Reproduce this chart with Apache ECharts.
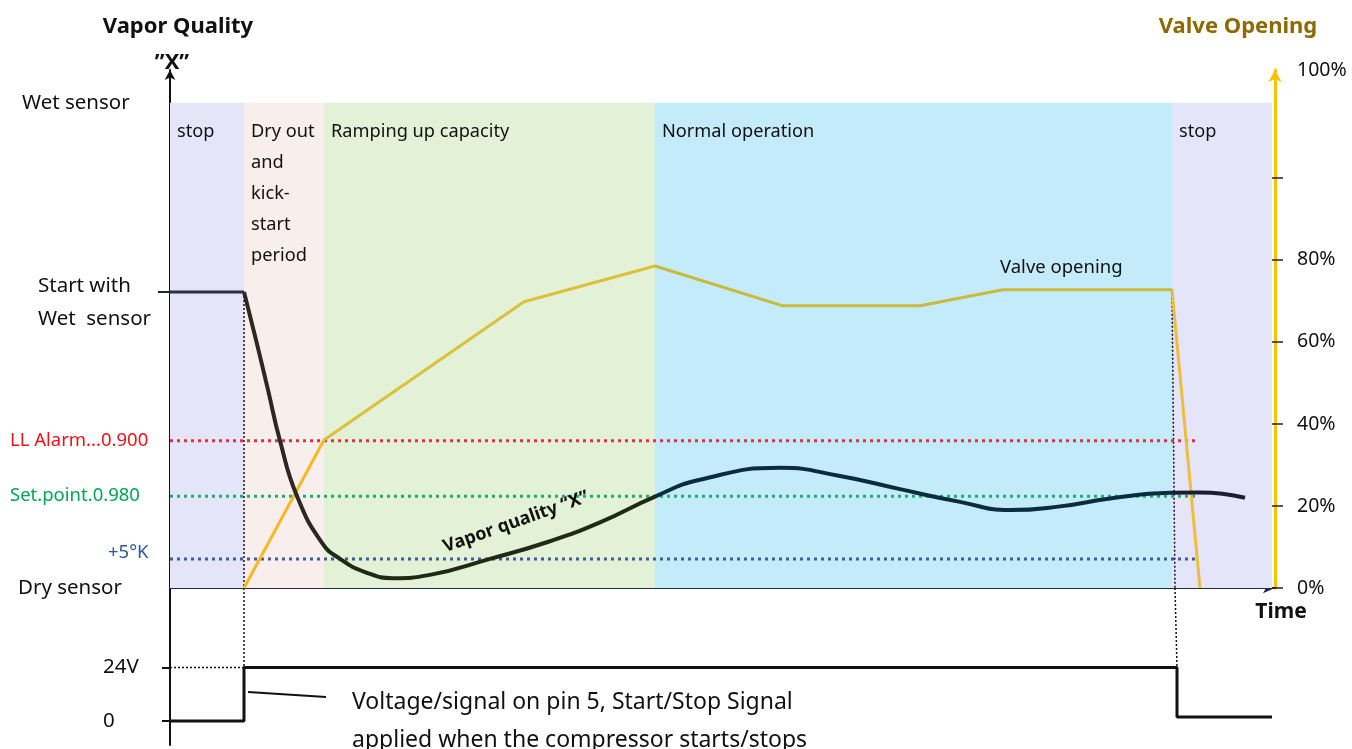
<!DOCTYPE html>
<html>
<head>
<meta charset="utf-8">
<title>Vapor quality and valve opening</title>
<script src="https://cdn.jsdelivr.net/npm/echarts@6/dist/echarts.min.js"></script>
<style>
  html, body { margin: 0; padding: 0; background: #fff; }
  #chart { width: 1352px; height: 749px; }
</style>
</head>
<body>
<div id="chart"></div>
<script>
// time axis has no units, 0 = left axis, 110 = right axis
const phaseNames = ['stop', 'Dry out\nand\nkick-\nstart\nperiod', 'Ramping up capacity', 'Normal operation', 'stop'];
const phaseEdges = [0, 7.4, 15.4, 48.5, 100.2, 110.2];
const phaseTop = 118.3;

// valve opening in %
const valveTime = [7.4, 15.4, 35.4, 48.5, 61.3, 75.0, 83.3, 100.2, 103.0];
const valveOpening = [0, 36.1, 69.8, 78.5, 68.8, 68.8, 72.7, 72.7, 0];
const valveTicks = [0, 20, 40, 60, 80, 100];

// vapor quality, drawn on the same 0..126 scale
const wetStartTime = [0, 7.4];
const wetStartLevel = [72.2, 72.2];
const qualityTime = [7.4, 8.6, 9.8, 11.0, 12.7, 15.2, 17.0, 19.5, 22.3, 26.0, 32.0, 38.0, 43.0, 48.5,
  53.0, 61.0, 67.0, 73.0, 79.0, 84.0, 89.0, 94.0, 100.0, 103.0, 107.5];
const qualityValue = [72.2, 60.5, 48.3, 35.9, 22.4, 11.0, 7.1, 3.9, 2.4, 3.2, 7.1, 11.4, 16.0, 22.3,
  26.4, 29.3, 27.3, 24.1, 21.0, 19.0, 19.9, 21.8, 23.2, 23.3, 22.0];

const thresholdNames = ['LL Alarm...0.900', 'Set.point.0.980', '+5°K'];
const thresholdLevels = [35.9, 22.4, 7.1];
const thresholdEnd = 102.8;

const leftLabelLevels = [118.3, 69.5, 35.9, 22.4, 8.5, 0];
const leftLabelTexts = ['Wet sensor', 'Start with\nWet  sensor', 'LL Alarm...0.900', 'Set.point.0.980', '+5°K', 'Dry sensor'];

// start/stop signal in volts
const voltTime = [0, 7.4, 7.4, 100.7, 100.7, 110.2];
const voltLevel = [0, 0, 24, 24, 1.8, 1.8];
const voltTicks = [0, 24];

const FONT = '"Noto Sans", sans-serif';
const phaseColors = ['#e5e5fa', '#f8eeec', '#e3f1d7', '#c3ebfa', '#e5e5fa'];
const thresholdColors = ['#e3303e', '#1cb06c', '#3f5c98'];

const chart = echarts.init(document.getElementById('chart'));

function pairs(xs, ys) {
  return xs.map((x, i) => [x, ys[i]]);
}

const phaseAreas = phaseNames.map((name, i) => [
  { name: name, xAxis: phaseEdges[i], yAxis: 0, itemStyle: { color: phaseColors[i] } },
  { xAxis: phaseEdges[i + 1], yAxis: phaseTop }
]);

const thresholdSeries = thresholdLevels.map((lv, i) => ({
  type: 'line', xAxisIndex: 0, yAxisIndex: 0, symbol: 'none', z: 3,
  data: [[0, lv], [thresholdEnd, lv]],
  lineStyle: { color: thresholdColors[i], width: 3, type: [3, 4] }
}));

const dotted = { color: '#111', width: 1.5, type: [2, 2] };

const option = {
  animation: false,
  textStyle: { fontFamily: FONT },
  grid: [
    { left: 170, right: 77, top: 70, height: 518 },
    { left: 170, right: 77, top: 588, height: 157 }
  ],
  xAxis: [
    {
      type: 'value', gridIndex: 0, min: 0, max: 110.5,
      axisLine: { onZero: false, lineStyle: { color: '#1f2a44', width: 2 }, symbol: ['none', 'arrow'], symbolSize: [8, 12] },
      axisTick: { show: false }, axisLabel: { show: false }, splitLine: { show: false }
    },
    { type: 'value', gridIndex: 1, min: 0, max: 110.5, show: false }
  ],
  yAxis: [
    {
      type: 'value', gridIndex: 0, position: 'left', min: 0, max: 126.3,
      axisLine: { show: true, lineStyle: { color: '#111', width: 2 }, symbol: ['none', 'arrow'], symbolSize: [8, 10] },
      axisTick: { show: true, customValues: [72.2], length: 12, lineStyle: { color: '#222', width: 2 } },
      splitLine: { show: false },
      axisLabel: {
        customValues: leftLabelLevels, align: 'left', margin: 160, fontSize: 20, color: '#111',
        formatter: function (v) {
          const i = leftLabelLevels.findIndex(x => Math.abs(x - v) < 0.01);
          if (i < 0) return '';
          return leftLabelTexts[i].split('\n').map(l => '{s' + i + '|' + l + '}').join('\n');
        },
        rich: {
          s0: { fontSize: 20.5, color: '#111', padding: [0, 0, 0, 12] },
          s1: { fontSize: 20.5, color: '#111', padding: [0, 0, 0, 28], lineHeight: 33 },
          s2: { fontSize: 18.5, color: '#e8141c' },
          s3: { fontSize: 18.5, color: '#00a651' },
          s4: { fontSize: 18.5, color: '#2f5597', padding: [0, 0, 0, 98] },
          s5: { fontSize: 20.5, color: '#111', padding: [0, 0, 0, 8] }
        }
      }
    },
    {
      type: 'value', gridIndex: 0, position: 'right', min: 0, max: 126.3,
      axisLine: { show: true, lineStyle: { color: '#ffc000', width: 3 }, symbol: ['none', 'arrow'], symbolSize: [10, 12] },
      axisTick: { show: true, customValues: valveTicks, length: 8, lineStyle: { color: '#222', width: 1.5 } },
      splitLine: { show: false },
      axisLabel: {
        customValues: [0, 20, 40, 60, 80, 126.3], margin: 22, fontSize: 19.5, color: '#111',
        formatter: v => (v > 100 ? '100%' : v + '%')
      }
    },
    {
      // same axis again, only to draw the inner half of the ticks
      type: 'value', gridIndex: 0, position: 'right', offset: 0, min: 0, max: 126.3,
      axisLine: { show: false },
      axisTick: { show: true, inside: true, customValues: valveTicks, length: 10, lineStyle: { color: '#222', width: 1.5 } },
      axisLabel: { show: false }, splitLine: { show: false }
    },
    {
      type: 'value', gridIndex: 1, position: 'left', min: -10.8, max: 59.7,
      axisLine: { show: true, onZero: false, lineStyle: { color: '#111', width: 2 } },
      axisTick: { show: true, customValues: voltTicks, length: 8, lineStyle: { color: '#111', width: 2 } },
      splitLine: { show: false },
      axisLabel: {
        customValues: voltTicks, align: 'left', margin: 67, fontSize: 20.5, color: '#111',
        formatter: v => (v === 24 ? '24V' : '0')
      }
    }
  ],
  visualMap: [
    {
      show: false, type: 'piecewise', seriesIndex: 1, dimension: 0,
      pieces: [
        { lt: 15.4, color: '#f7b822' },
        { gte: 15.4, lt: 48.5, color: '#dcc03c' },
        { gte: 48.5, lt: 100.2, color: '#c9b93c' },
        { gte: 100.2, color: '#eebd3e' }
      ]
    },
    {
      show: false, type: 'piecewise', seriesIndex: 2, dimension: 0,
      pieces: [
        { lt: 15.4, color: '#2c2624' },
        { gte: 15.4, lt: 48.5, color: '#1e2a14' },
        { gte: 48.5, lt: 100.2, color: '#0b2c3c' },
        { gte: 100.2, color: '#1c1c34' }
      ]
    }
  ],
  series: [
    {
      name: 'phases', type: 'line', xAxisIndex: 0, yAxisIndex: 0, symbol: 'none', z: 1,
      data: [[0, 0]], lineStyle: { width: 0 },
      markArea: {
        silent: true,
        label: { position: 'insideTopLeft', offset: [2, 9], fontSize: 18.2, color: '#111', lineHeight: 31, fontFamily: FONT },
        data: phaseAreas
      }
    },
    {
      name: 'Valve opening', type: 'line', xAxisIndex: 0, yAxisIndex: 0, symbol: 'none', z: 4,
      data: pairs(valveTime, valveOpening),
      lineStyle: { width: 3 }
    },
    {
      name: 'Vapor quality', type: 'line', xAxisIndex: 0, yAxisIndex: 0, symbol: 'none', z: 5,
      smooth: 0.5,
      data: pairs(qualityTime, qualityValue),
      lineStyle: { width: 4 }
    },
    {
      name: 'Wet start', type: 'line', xAxisIndex: 0, yAxisIndex: 0, symbol: 'none', z: 5,
      data: pairs(wetStartTime, wetStartLevel),
      lineStyle: { color: '#2a3045', width: 3 }
    },
    ...thresholdSeries,
    {
      type: 'line', xAxisIndex: 0, yAxisIndex: 0, symbol: 'none', z: 2,
      data: [[7.4, 72.2], [7.4, 0]], lineStyle: dotted
    },
    {
      type: 'line', xAxisIndex: 0, yAxisIndex: 0, symbol: 'none', z: 2,
      data: [[100.2, 72.7], [100.5, 0]], lineStyle: dotted
    },
    {
      type: 'line', xAxisIndex: 1, yAxisIndex: 3, symbol: 'none', z: 2,
      data: [[7.4, 59.7], [7.4, 24]], lineStyle: dotted
    },
    {
      type: 'line', xAxisIndex: 1, yAxisIndex: 3, symbol: 'none', z: 2,
      data: [[100.5, 59.7], [100.7, 24]], lineStyle: dotted
    },
    {
      type: 'line', xAxisIndex: 1, yAxisIndex: 3, symbol: 'none', z: 2,
      data: [[0, 24], [7.4, 24]], lineStyle: dotted
    },
    {
      name: 'Start/Stop signal', type: 'line', xAxisIndex: 1, yAxisIndex: 3, symbol: 'none', z: 4,
      data: pairs(voltTime, voltLevel),
      lineStyle: { color: '#111', width: 3 }
    },
    {
      // leader line to the signal note
      type: 'line', xAxisIndex: 1, yAxisIndex: 3, symbol: 'none', z: 4,
      data: [[7.8, 13.0], [15.6, 10.8]],
      lineStyle: { color: '#111', width: 2 }
    }
  ],
  graphic: [
    { type: 'text', x: 178, y: 27, style: { text: 'Vapor Quality', font: 'bold 22px ' + FONT, fill: '#111', align: 'center', verticalAlign: 'middle' } },
    { type: 'text', x: 172, y: 63, style: { text: '”X”', font: 'bold 22px ' + FONT, fill: '#111', align: 'center', verticalAlign: 'middle' } },
    { type: 'text', x: 1238, y: 27, style: { text: 'Valve Opening', font: 'bold 22px ' + FONT, fill: '#8c6a00', align: 'center', verticalAlign: 'middle' } },
    { type: 'text', x: 1281, y: 612, style: { text: 'Time', font: 'bold 21px ' + FONT, fill: '#111', align: 'center', verticalAlign: 'middle' } },
    { type: 'text', x: 1000, y: 268, z: 10, style: { text: 'Valve opening', font: '18.5px ' + FONT, fill: '#111', verticalAlign: 'middle' } },
    {
      type: 'text', x: 516, y: 522, rotation: 0.34, z: 10,
      style: { text: 'Vapor quality “X”', font: 'bold 18px ' + FONT, fill: '#111', align: 'center', verticalAlign: 'middle' }
    },
    {
      type: 'text', x: 352, y: 683, z: 10,
      style: { text: 'Voltage/signal on pin 5, Start/Stop Signal\napplied when the compressor starts/stops', font: '23px ' + FONT, lineHeight: 38, fill: '#111' }
    }
  ]
};

chart.setOption(option);
</script>
</body>
</html>
